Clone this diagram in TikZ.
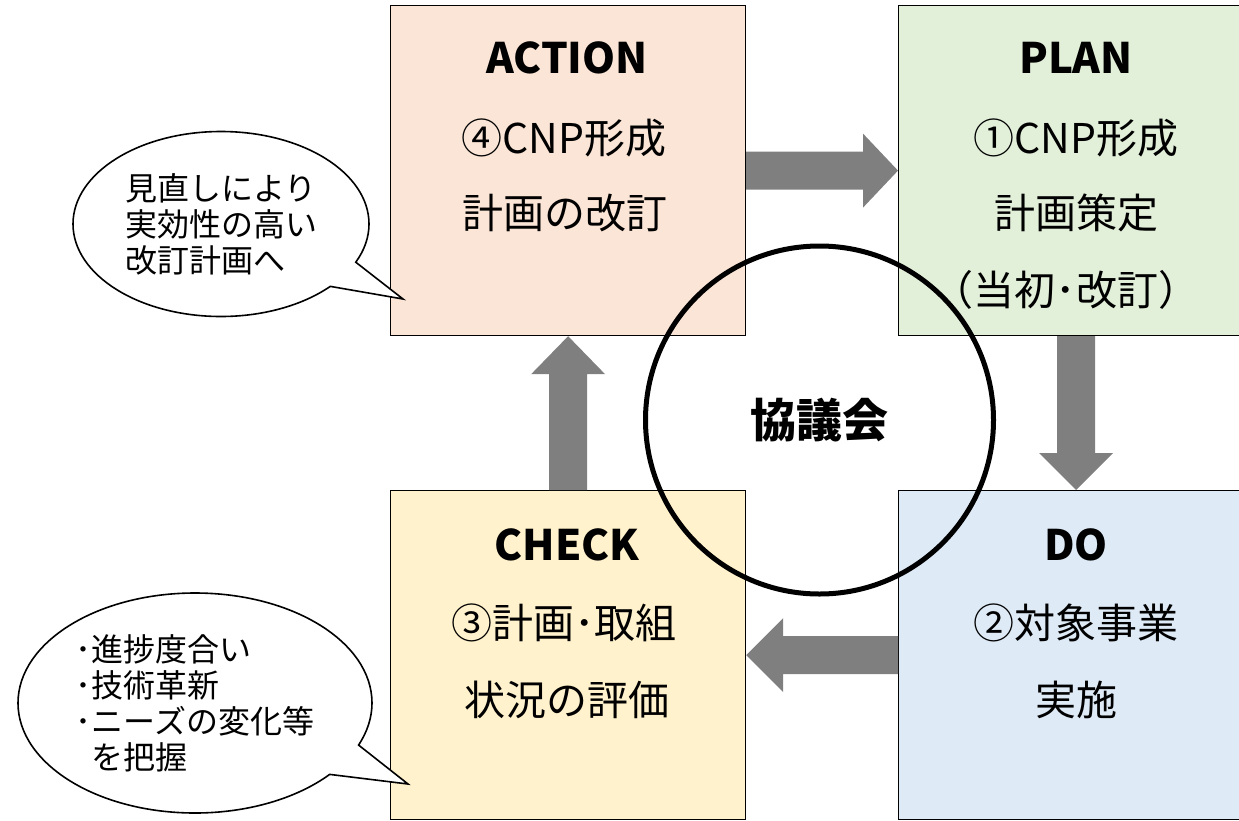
\documentclass[tikz,border=0pt]{standalone}
\usepackage{fontspec}
\setmainfont{Noto Sans CJK JP}
\usetikzlibrary{shapes.callouts,calc}
\definecolor{actfill}{HTML}{FBE5D6}
\definecolor{planfill}{HTML}{E2F0D9}
\definecolor{chkfill}{HTML}{FFF2CC}
\definecolor{dofill}{HTML}{DEEBF7}
\definecolor{arrgray}{HTML}{7F7F7F}
\begin{document}
\begin{tikzpicture}[x=1pt,y=-1pt,
  box/.style={draw=black,line width=1.2pt,minimum width=355pt,inner sep=0pt,anchor=north west},
  ttl/.style={font=\fontsize{42}{42}\selectfont\bfseries,inner sep=0pt},
  bodytxt/.style={font=\fontsize{41}{41}\selectfont,inner sep=0pt},
  bubble/.style={ellipse callout,draw=black,line width=1.6pt,fill=white,align=left,
    font=\fontsize{32}{36}\selectfont,inner sep=0pt,callout pointer arc=18},
  blk/.style={fill=arrgray}]
\useasboundingbox (0,0) rectangle (1239,820);
\begin{scope}
\clip (0,0) rectangle (1239,820);
% boxes
\node[box,fill=actfill,minimum height=330pt] (action) at (390,5) {};
\node[box,fill=planfill,minimum height=330pt] (plan) at (898,5) {};
\node[box,fill=chkfill,minimum height=329pt] (check) at (390,490) {};
\node[box,fill=dofill,minimum height=329pt] (do) at (898,490) {};
% block arrows
\fill[blk] let \p1=(action.east), \p2=(plan.west) in
  (\x1,\y1+19) -- (\x2-35,\y1+19) -- (\x2-35,\y1+37) -- (\x2,\y1)
  -- (\x2-35,\y1-37) -- (\x2-35,\y1-19) -- (\x1,\y1-19) -- cycle;
\fill[blk] let \p1=(plan.south), \p2=(do.north) in
  (\x1-19,\y1) -- (\x1-19,\y2+37) -- (\x1-37,\y2+37) -- (\x1,\y2)
  -- (\x1+37,\y2+37) -- (\x1+19,\y2+37) -- (\x1+19,\y1) -- cycle;
\fill[blk] let \p1=(do.west), \p2=(check.east) in
  (\x1,\y1+19) -- (\x2+37,\y1+19) -- (\x2+37,\y1+37) -- (\x2,\y1)
  -- (\x2+37,\y1-37) -- (\x2+37,\y1-19) -- (\x1,\y1-19) -- cycle;
\fill[blk] let \p1=(check.north), \p2=(action.south) in
  (\x1-19,\y1) -- (\x1-19,\y2-38) -- (\x1-37,\y2-38) -- (\x1,\y2)
  -- (\x1+37,\y2-38) -- (\x1+19,\y2-38) -- (\x1+19,\y1) -- cycle;
% texts
\node[ttl] (t1) at (567,58) {ACTION};
\node[bodytxt] (t2) at (564,138) {④CNP形成};
\node[bodytxt] (t3) at (565,213) {計画の改訂};
\node[ttl] (t4) at (1076,58) {PLAN};
\node[bodytxt] (t5) at (1076,138) {①CNP形成};
\node[bodytxt] (t6) at (1076,213) {計画策定};
\node[bodytxt] (t7) at (1066,290) {（当初･改訂）};
\node[ttl] (t8) at (567,545) {CHECK};
\node[bodytxt] (t9) at (564,623) {③計画･取組};
\node[bodytxt] (t10) at (567,700) {状況の評価};
\node[ttl] (t11) at (1076,545) {DO};
\node[bodytxt] (t12) at (1076,623) {②対象事業};
\node[bodytxt] (t13) at (1076,700) {実施};
% council circle
\node[draw=black,circle,line width=5pt,minimum size=348pt,inner sep=0pt,
  font=\fontsize{46}{46}\selectfont\bfseries] (council) at (819.5,420) {協議会};
% callouts
\node[bubble,minimum width=296pt,minimum height=185pt,
  callout absolute pointer={(403,299)}] (note1) at (221,224)
  {見直しにより\\実効性の高い\\改訂計画へ};
\node[bubble,minimum width=354pt,minimum height=220pt,
  callout absolute pointer={(408,784)}] (note2) at (195,703)
  {･進捗度合い\\･技術革新\\･ニーズの変化等\\\hspace*{0.5em}を把握};
\end{scope}
\end{tikzpicture}
\end{document}
